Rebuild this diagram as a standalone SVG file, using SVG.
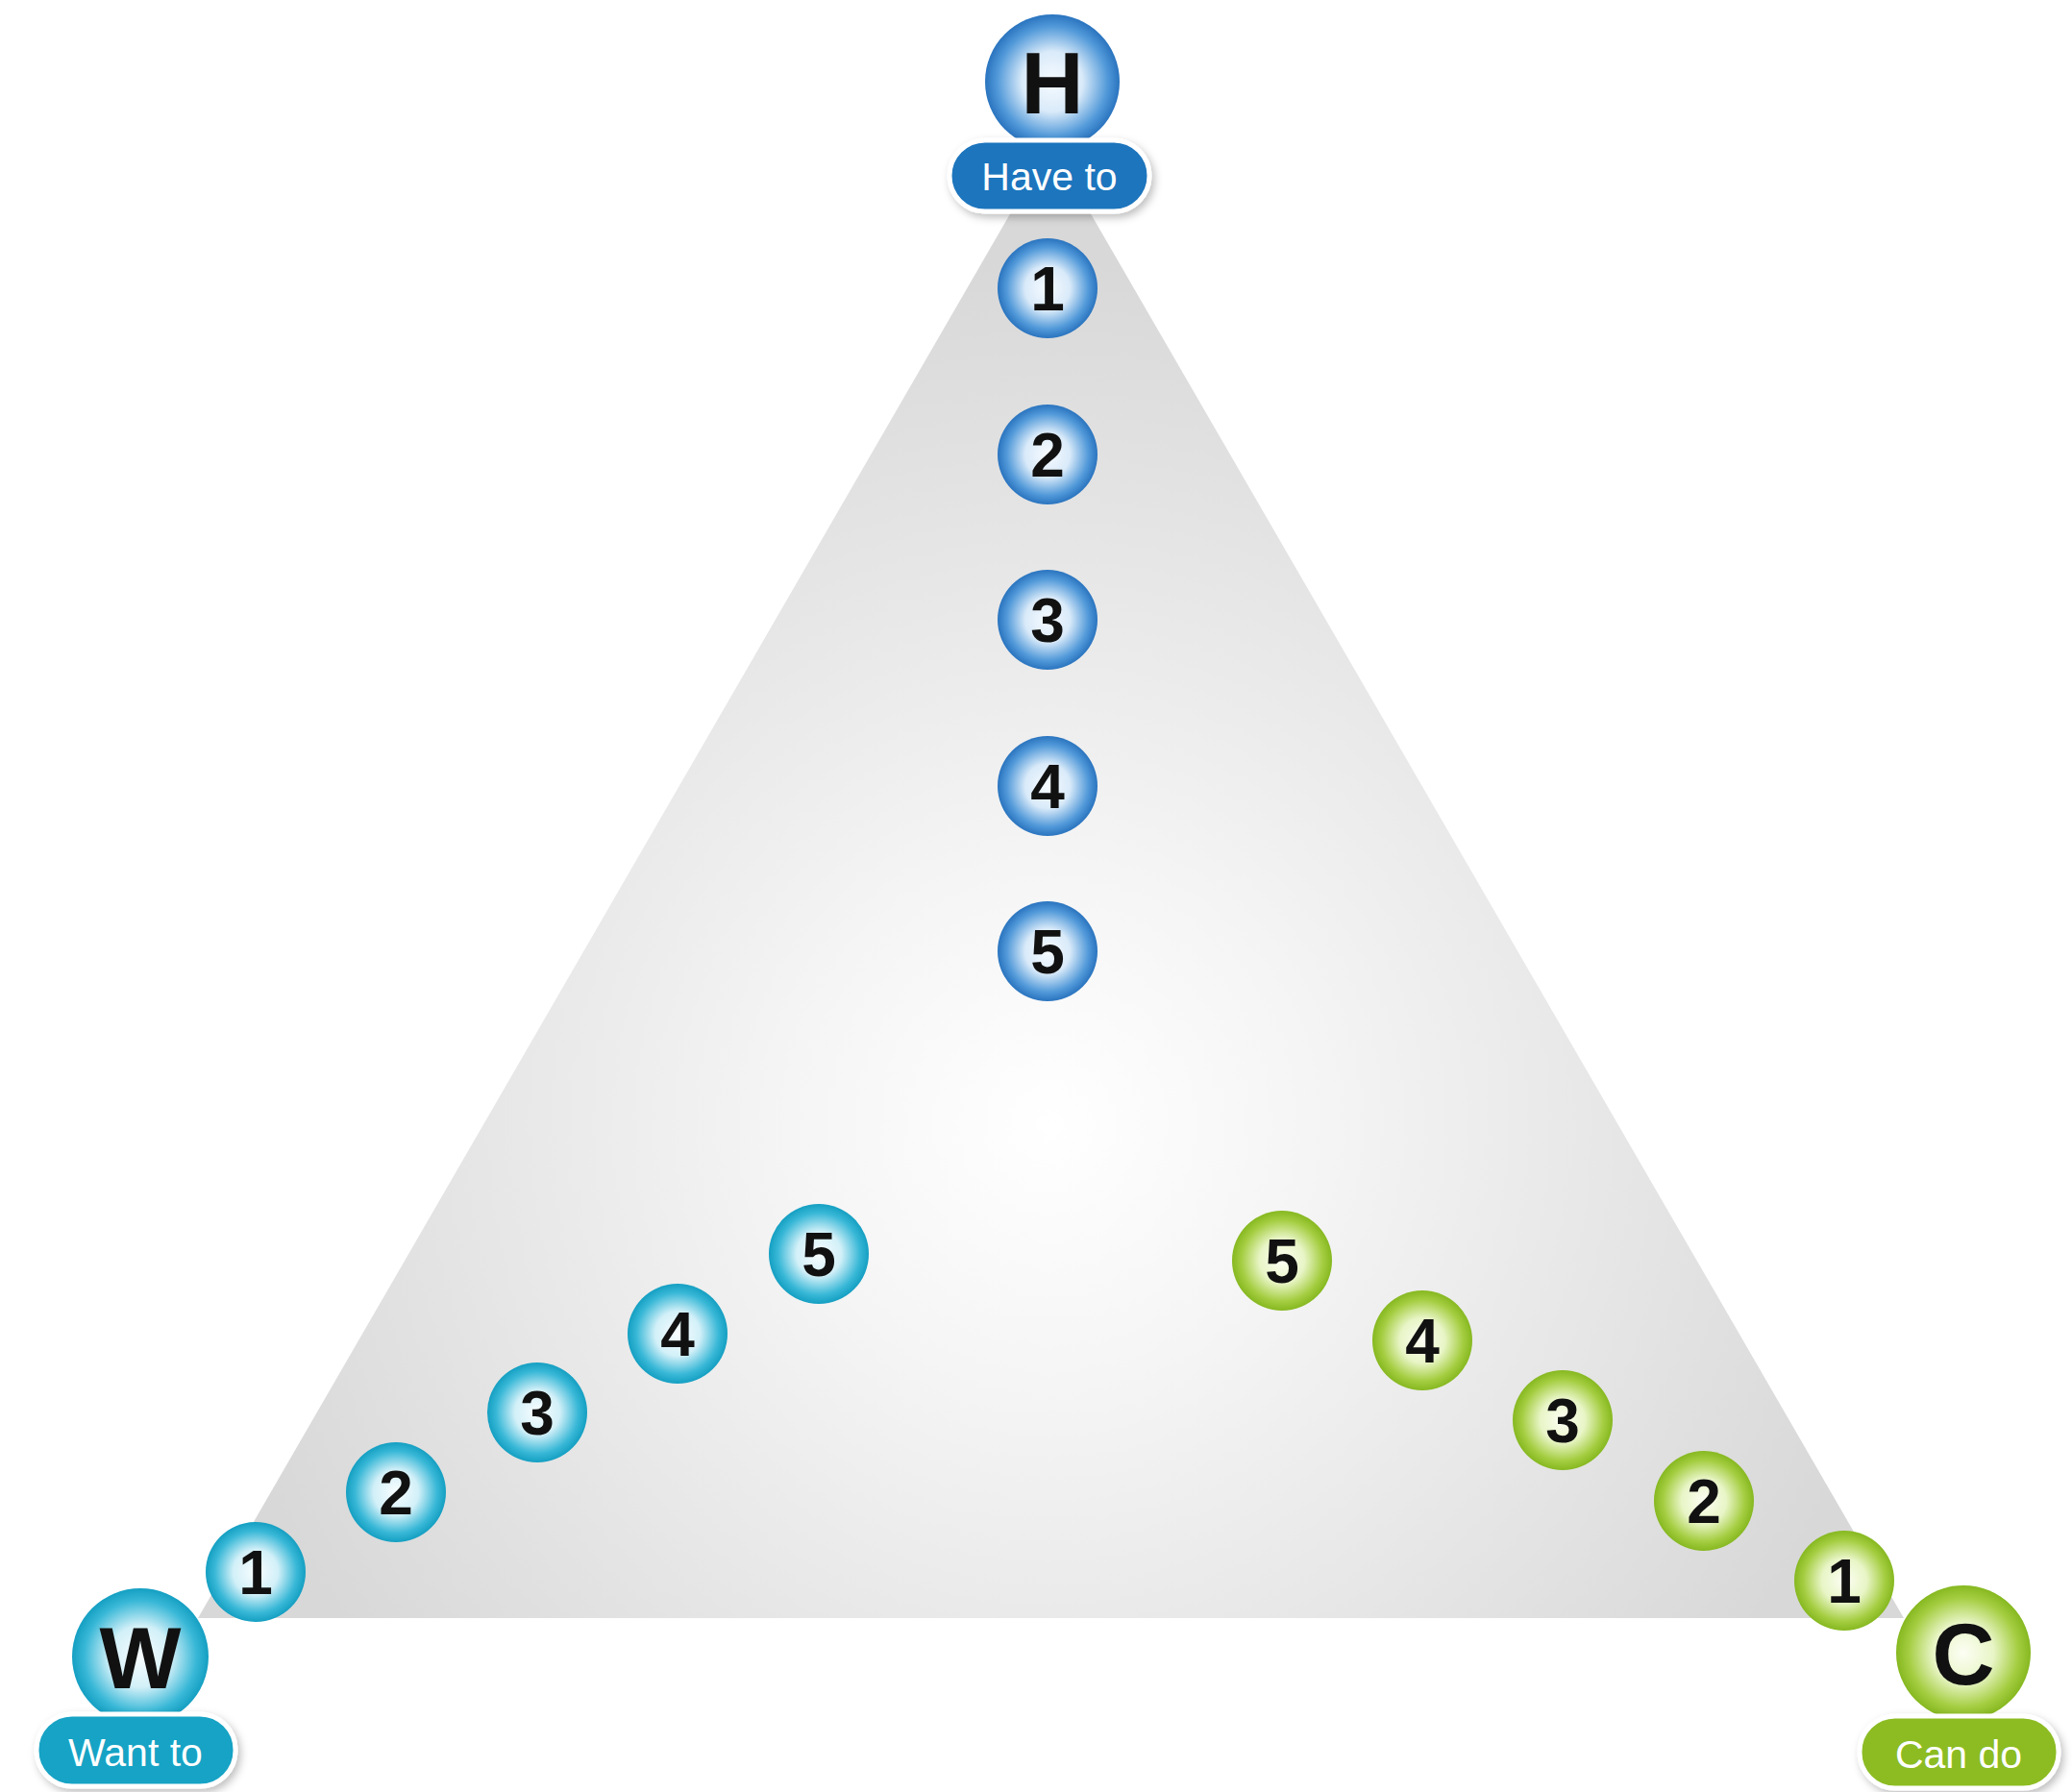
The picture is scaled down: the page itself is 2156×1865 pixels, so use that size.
<svg xmlns="http://www.w3.org/2000/svg" width="2156" height="1865" viewBox="0 0 2156 1865">
<defs>
<radialGradient id="tri" gradientUnits="userSpaceOnUse" cx="1093" cy="1170" r="900">
<stop offset="0" stop-color="#ffffff"/>
<stop offset="0.3" stop-color="#f5f5f5"/>
<stop offset="1" stop-color="#d8d8d8"/>
</radialGradient>
<radialGradient id="gBlue" cx="0.5" cy="0.5" r="0.5">
<stop offset="0" stop-color="#f7fbff"/>
<stop offset="0.45" stop-color="#d9eaf9"/>
<stop offset="0.82" stop-color="#5199d9"/>
<stop offset="1" stop-color="#2a74bf"/>
</radialGradient>
<radialGradient id="gCyan" cx="0.5" cy="0.5" r="0.5">
<stop offset="0" stop-color="#f8fdff"/>
<stop offset="0.45" stop-color="#d2f0f8"/>
<stop offset="0.82" stop-color="#39b8d7"/>
<stop offset="1" stop-color="#149fc2"/>
</radialGradient>
<radialGradient id="gGreen" cx="0.5" cy="0.5" r="0.5">
<stop offset="0" stop-color="#fcfef4"/>
<stop offset="0.45" stop-color="#e8f5c6"/>
<stop offset="0.82" stop-color="#a4cd40"/>
<stop offset="1" stop-color="#86b820"/>
</radialGradient>
<filter id="sh" x="-20%" y="-20%" width="150%" height="160%">
<feDropShadow dx="3" dy="4" stdDeviation="4" flood-color="#000" flood-opacity="0.25"/>
</filter>
</defs>
<style>
.num{font-family:"Liberation Sans",Arial,sans-serif;font-weight:bold;font-size:64px;fill:#111;text-anchor:middle}
.big{font-family:"Liberation Sans",Arial,sans-serif;font-weight:bold;font-size:90px;fill:#111;text-anchor:middle}
.lbl{font-family:"Liberation Sans",Arial,sans-serif;font-size:41px;fill:#fff;text-anchor:middle}
.pill{stroke:#fff;stroke-width:5;filter:url(#sh)}
.b{fill:url(#gBlue)}
.c{fill:url(#gCyan)}
.g{fill:url(#gGreen)}
</style>
<rect width="2156" height="1865" fill="#fff"/>
<polygon id="triangle" points="1093,150 206,1684 1981,1684" fill="url(#tri)"/>
<g id="connectors"/>

<g id="H">
<circle cx="1095" cy="85" r="70" class="b"/>
<text x="1095" y="118" class="big">H</text>
<rect x="988" y="146" width="208" height="74" rx="37" fill="#1b74bd" class="pill"/>
<text x="1092" y="198" class="lbl">Have to</text>
</g>
<g id="W">
<circle cx="146" cy="1724" r="71" class="c"/>
<text x="146" y="1757" class="big">W</text>
<rect x="38" y="1784" width="207" height="75" rx="37" fill="#17a3c5" class="pill"/>
<text x="141" y="1838" class="lbl">Want to</text>
</g>
<g id="C">
<circle cx="2043" cy="1720" r="70" class="g"/>
<text x="2043" y="1753" class="big">C</text>
<rect x="1935" y="1786" width="207" height="75" rx="37" fill="#8cbc23" class="pill"/>
<text x="2038" y="1840" class="lbl">Can do</text>
</g>

<g id="h1"><circle cx="1090" cy="300" r="52" class="b"/><text x="1090" y="323" class="num">1</text></g>
<g id="h2"><circle cx="1090" cy="473" r="52" class="b"/><text x="1090" y="496" class="num">2</text></g>
<g id="h3"><circle cx="1090" cy="645" r="52" class="b"/><text x="1090" y="668" class="num">3</text></g>
<g id="h4"><circle cx="1090" cy="818" r="52" class="b"/><text x="1090" y="841" class="num">4</text></g>
<g id="h5"><circle cx="1090" cy="990" r="52" class="b"/><text x="1090" y="1013" class="num">5</text></g>

<g id="w1"><circle cx="266" cy="1636" r="52" class="c"/><text x="266" y="1659" class="num">1</text></g>
<g id="w2"><circle cx="412" cy="1553" r="52" class="c"/><text x="412" y="1576" class="num">2</text></g>
<g id="w3"><circle cx="559" cy="1470" r="52" class="c"/><text x="559" y="1493" class="num">3</text></g>
<g id="w4"><circle cx="705" cy="1388" r="52" class="c"/><text x="705" y="1411" class="num">4</text></g>
<g id="w5"><circle cx="852" cy="1305" r="52" class="c"/><text x="852" y="1328" class="num">5</text></g>

<g id="c5"><circle cx="1334" cy="1312" r="52" class="g"/><text x="1334" y="1335" class="num">5</text></g>
<g id="c4"><circle cx="1480" cy="1395" r="52" class="g"/><text x="1480" y="1418" class="num">4</text></g>
<g id="c3"><circle cx="1626" cy="1478" r="52" class="g"/><text x="1626" y="1501" class="num">3</text></g>
<g id="c2"><circle cx="1773" cy="1562" r="52" class="g"/><text x="1773" y="1585" class="num">2</text></g>
<g id="c1"><circle cx="1919" cy="1645" r="52" class="g"/><text x="1919" y="1668" class="num">1</text></g>
</svg>
